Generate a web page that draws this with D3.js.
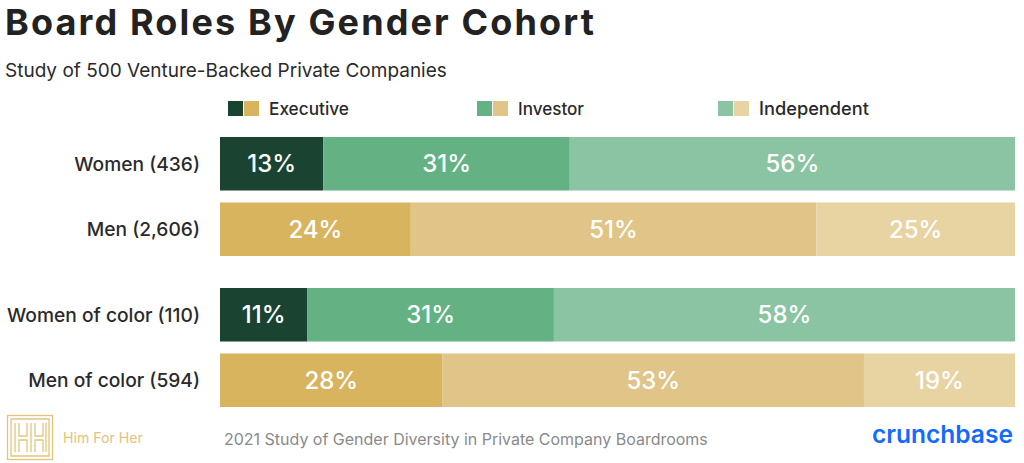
<!DOCTYPE html>
<html>
<head>
<meta charset="utf-8">
<script src="https://cdn.jsdelivr.net/npm/d3@7"></script>
<style>
  html, body { margin: 0; padding: 0; background: #fff; }
  svg { display: block; }
</style>
</head>
<body>
<svg id="chart" width="1024" height="463"></svg>
<script>
// ---------------- DATA ----------------
const categories = ["Women (436)", "Men (2,606)", "Women of color (110)", "Men of color (594)"];
const genders = ["women", "men", "women", "men"];
const groups = ["All", "Of color"];
const groupOf = ["All", "All", "Of color", "Of color"];
const roles = ["Executive", "Investor", "Independent"];
const executive = [13, 24, 11, 28];
const investor = [31, 51, 31, 53];
const independent = [56, 25, 58, 19];

const title = "Board Roles By Gender Cohort";
const subtitle = "Study of 500 Venture-Backed Private Companies";
const footer = "2021 Study of Gender Diversity in Private Company Boardrooms";

// ---------------- STYLE ----------------
const palette = {
  women: ["#1a4331", "#64b283", "#8bc4a2"],
  men:   ["#d8b45f", "#e1c487", "#e8d3a2"]
};
const FONT = "Inter, 'Noto Sans', sans-serif";

const svg = d3.select("#chart");

function fit(sel, target) {
  const node = sel.node();
  const w = node.getComputedTextLength();
  const fs = parseFloat(sel.attr("font-size"));
  sel.attr("font-size", (fs * target / w).toFixed(2));
}
function spread(sel, target) {
  const w = sel.node().getComputedTextLength();
  const n = sel.text().length;
  sel.attr("letter-spacing", ((target - w) / (n - 1)).toFixed(3));
}

// ---------------- SCALES ----------------
const x = d3.scaleLinear().domain([0, 100]).range([220, 1015]);
const yGroup = d3.scaleBand().domain(groups).range([137, 407]).paddingInner(0.212).paddingOuter(0);
const yRow = d3.scaleBand().domain([0, 1]).range([0, yGroup.bandwidth()]).paddingInner(0.183).paddingOuter(0);

const rows = categories.map((c, i) => {
  const vals = [executive[i], investor[i], independent[i]];
  let acc = 0;
  const segs = vals.map((v, k) => {
    const s = { start: acc, end: acc + v, value: v, role: roles[k], color: palette[genders[i]][k] };
    acc += v;
    return s;
  });
  return { cat: c, i, y: yGroup(groupOf[i]) + yRow(i % 2), segs };
});

// ---------------- TITLES ----------------
const t = svg.append("text").attr("x", 5).attr("y", 35).attr("font-family", FONT)
  .attr("font-weight", 700).attr("font-size", 36).attr("fill", "#222").text(title);
spread(t, 589);
const st = svg.append("text").attr("x", 5).attr("y", 77).attr("font-family", FONT)
  .attr("font-weight", 400).attr("font-size", 19).attr("fill", "#2a2a2a").text(subtitle);
fit(st, 442);

// ---------------- LEGEND ----------------
const legendX = [228, 477, 718];
const legendW = [80, 66, 110];
const legend = svg.append("g");
roles.forEach((r, k) => {
  const g = legend.append("g").attr("transform", `translate(${legendX[k]},101)`);
  g.append("rect").attr("x", 0).attr("y", 0).attr("width", 15).attr("height", 15).attr("fill", palette.women[k]);
  g.append("rect").attr("x", 16).attr("y", 0).attr("width", 15).attr("height", 15).attr("fill", palette.men[k]);
  const lt = g.append("text").attr("x", 41).attr("y", 14).attr("font-family", FONT)
    .attr("font-weight", 500).attr("font-size", 18).attr("fill", "#2a2a2a").text(r);
  fit(lt, legendW[k]);
});

// ---------------- BARS ----------------
const rowG = svg.append("g").selectAll("g.row").data(rows).join("g")
  .attr("class", "row").attr("transform", d => `translate(0,${d.y})`);

rowG.selectAll("rect").data(d => d.segs).join("rect")
  .attr("x", d => x(d.start)).attr("y", 0)
  .attr("width", d => x(d.end) - x(d.start))
  .attr("height", yRow.bandwidth())
  .attr("fill", d => d.color);

rowG.selectAll("text.pct").data(d => d.segs).join("text")
  .attr("class", "pct")
  .attr("x", d => (x(d.start) + x(d.end)) / 2)
  .attr("y", yRow.bandwidth() / 2)
  .attr("dy", "0.36em")
  .attr("text-anchor", "middle")
  .attr("font-family", FONT).attr("font-weight", 500)
  .attr("font-size", 24).attr("fill", "#fff")
  .text(d => d.value + "%");

// category labels
const labs = rowG.append("text")
  .attr("x", 200).attr("y", yRow.bandwidth() / 2).attr("dy", "0.36em")
  .attr("text-anchor", "end")
  .attr("font-family", FONT).attr("font-weight", 500).attr("font-size", 20).attr("fill", "#2a2a2a")
  .text(d => d.cat);
{
  const n = labs.filter((d, i) => i === 2);
  const w = n.node().getComputedTextLength();
  labs.attr("font-size", (20 * 193 / w).toFixed(2));
}

// ---------------- FOOTER ----------------
const ft = svg.append("text").attr("x", 224).attr("y", 445).attr("font-family", FONT)
  .attr("font-size", 17).attr("fill", "#8a8a8a").text(footer);
fit(ft, 484);

// Him For Her logo
const gold = "#e3c47c";
const logo = svg.append("g").attr("fill", "none").attr("stroke", gold).attr("stroke-width", 1.3);
logo.append("rect").attr("x", 7.5).attr("y", 415.5).attr("width", 45).attr("height", 44);
logo.append("path").attr("d", [
  "M11,419 H49 V456 H11 Z",
  "M15,423 V452", "M19,423 V436 H27 V423", "M19,452 V440 H27 V452",
  "M31,423 V452",
  "M35,423 V436 H43 V423", "M35,452 V440 H43 V452", "M46,423 V452"
].join(" "));
const hf = svg.append("text").attr("x", 63).attr("y", 443).attr("font-family", FONT)
  .attr("font-size", 16).attr("fill", gold).text("Him For Her");
fit(hf, 80);

// crunchbase
const cb = svg.append("text").attr("x", 872).attr("y", 443).attr("font-family", FONT)
  .attr("font-weight", 600).attr("font-size", 24).attr("fill", "#146aff").text("crunchbase");
fit(cb, 141);
</script>
</body>
</html>
